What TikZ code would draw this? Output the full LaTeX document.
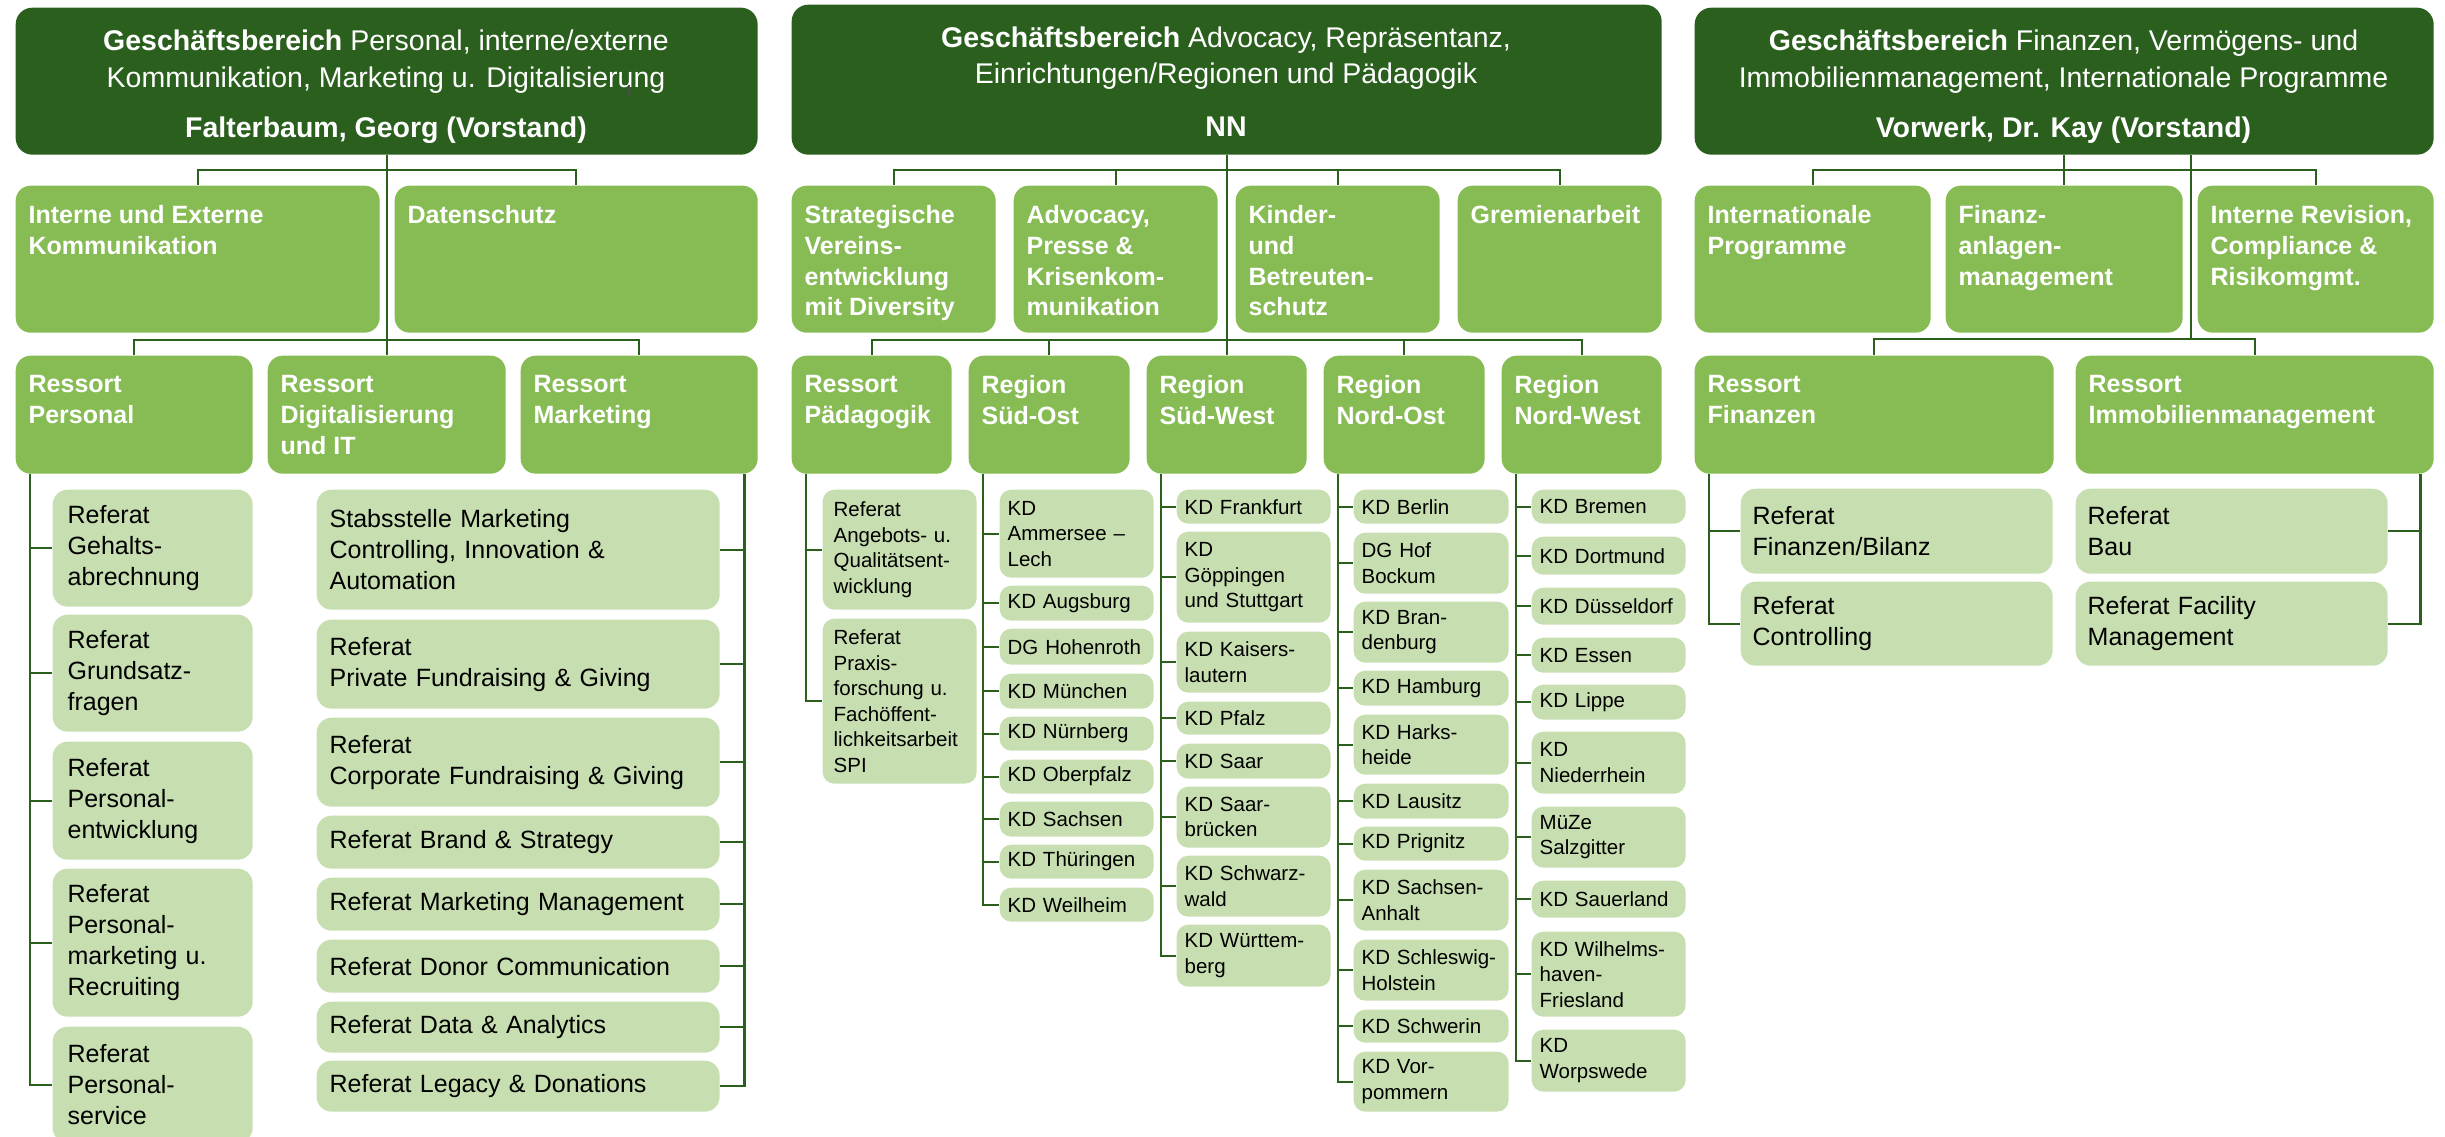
\documentclass[tikz,border=0pt]{standalone}
\usepackage{fontspec}
\setmainfont{Liberation Sans}
\usetikzlibrary{calc}
\definecolor{hdr}{HTML}{2A5F1D}
\definecolor{mid}{HTML}{87BC55}
\definecolor{lite}{HTML}{C7DFB0}
\definecolor{ln}{HTML}{2B601C}
\tikzset{
  x=0.3pt, y=-0.3pt,
  hdrbox/.style={fill=hdr, rounded corners=5pt},
  midbox/.style={fill=mid, rounded corners=4.5pt},
  refbox/.style={fill=lite, rounded corners=4.5pt, text=black,
    font=\fontsize{7.5pt}{9.3pt}\selectfont},
  kdbox/.style={fill=lite, rounded corners=3.5pt, text=black,
    font=\fontsize{6.15pt}{7.65pt}\selectfont},
  hdrtxt/.style={text=white, font=\fontsize{8.55pt}{11pt}\selectfont,
    inner sep=0pt, anchor=base},
  midtxt/.style={text=white, font=\bfseries\fontsize{7.5pt}{9.2pt}\selectfont,
    inner sep=0pt, anchor=north west, align=left},
  conn/.style={draw=ln, line width=0.7pt},
}
% plain box: name, style, x1, y1, x2, y2
\newcommand\pbx[6]{%
  \pgfmathsetmacro\mybw{(#5-#3)*0.3}%
  \pgfmathsetmacro\mybh{(#6-#4)*0.3}%
  \node[#2, anchor=north west, inner sep=0pt, minimum width=\mybw pt,
        minimum height=\mybh pt] (#1) at (#3,#4) {};}
% text box: name, style, x1, y1, x2, y2, pad, text
\newcommand\tbx[8]{%
  \pgfmathsetmacro\mybw{(#5-#3)*0.3}%
  \pgfmathsetmacro\mybh{(#6-#4)*0.3}%
  \pgfmathsetmacro\mytw{(#5-#3-2*#7)*0.3}%
  \pgfmathsetmacro\mypad{#7*0.3}%
  \node[#2, anchor=north west, inner xsep=\mypad pt, inner ysep=0pt,
        minimum width=\mybw pt, minimum height=\mybh pt, text width=\mytw pt,
        align=left, execute at begin node={\hyphenpenalty=10000\exhyphenpenalty=10000}]
        (#1) at (#3,#4) {#8};}
\begin{document}
\begin{tikzpicture}
\useasboundingbox (0,0) rectangle (2445,1137);

% ================= Headers =================
\pbx{h1}{hdrbox}{15}{7}{757}{154}
\pbx{h2}{hdrbox}{791}{4}{1661}{154}
\pbx{h3}{hdrbox}{1694}{7}{2433}{154}

\node[hdrtxt] (h1a) at (386,50) {\textbf{Geschäftsbereich} Personal, interne/externe};
\node[hdrtxt] (h1b) at (386,87) {Kommunikation, Marketing u. Digitalisierung};
\node[hdrtxt] (h1c) at (386,137) {\textbf{Falterbaum, Georg (Vorstand)}};
\draw[black!70, line width=0.4pt] (629,85) -- (629,97);

\node[hdrtxt] (h2a) at (1226,47) {\textbf{Geschäftsbereich} Advocacy, Repräsentanz,};
\node[hdrtxt] (h2b) at (1226,83) {Einrichtungen/Regionen und Pädagogik};
\node[hdrtxt] (h2c) at (1226,136) {\textbf{NN}};

\node[hdrtxt] (h3a) at (2063.5,50) {\textbf{Geschäftsbereich} Finanzen, Vermögens- und};
\node[hdrtxt] (h3b) at (2063.5,87) {Immobilienmanagement, Internationale Programme};
\node[hdrtxt] (h3c) at (2063.5,137) {\textbf{Vorwerk, Dr. Kay (Vorstand)}};

% ================= Row 2 =================
\pbx{g1a}{midbox}{15}{185}{379}{332}
\pbx{g1b}{midbox}{394}{185}{757}{332}
\pbx{s1}{midbox}{791}{185}{995}{332}
\pbx{s2}{midbox}{1013}{185}{1217}{332}
\pbx{s3}{midbox}{1235}{185}{1439}{332}
\pbx{s4}{midbox}{1457}{185}{1661}{332}
\pbx{f1}{midbox}{1694}{185}{1930}{332}
\pbx{f2}{midbox}{1945}{185}{2182}{332}
\pbx{f3}{midbox}{2197}{185}{2433}{332}

\node[midtxt] (g1aT) at ($(g1a.north west)+(13,20)$) {Interne und Externe\\Kommunikation};
\node[midtxt] (g1bT) at ($(g1b.north west)+(13,20)$) {Datenschutz};
\node[midtxt] (s1T) at ($(s1.north west)+(13,20)$) {Strategische\\Vereins-\\entwicklung\\mit Diversity};
\node[midtxt] (s2T) at ($(s2.north west)+(13,20)$) {Advocacy,\\Presse \&\\Krisenkom-\\munikation};
\node[midtxt] (s3T) at ($(s3.north west)+(13,20)$) {Kinder-\\und\\Betreuten-\\schutz};
\node[midtxt] (s4T) at ($(s4.north west)+(13,20)$) {Gremienarbeit};
\node[midtxt] (f1T) at ($(f1.north west)+(13,20)$) {Internationale\\Programme};
\node[midtxt] (f2T) at ($(f2.north west)+(13,20)$) {Finanz-\\anlagen-\\management};
\node[midtxt] (f3T) at ($(f3.north west)+(13,20)$) {Interne Revision,\\Compliance \&\\Risikomgmt.};

% ================= Row 3 =================
\pbx{g1p}{midbox}{15}{355}{252}{473}
\pbx{g1d}{midbox}{267}{355}{505}{473}
\pbx{g1m}{midbox}{520}{355}{757}{473}
\pbx{q1}{midbox}{791}{355}{951}{473}
\pbx{q2}{midbox}{968}{355}{1129}{473}
\pbx{q3}{midbox}{1146}{355}{1306}{473}
\pbx{q4}{midbox}{1323}{355}{1484}{473}
\pbx{q5}{midbox}{1501}{355}{1661}{473}
\pbx{k1}{midbox}{1694}{355}{2053}{473}
\pbx{k2}{midbox}{2075}{355}{2433}{473}

\node[midtxt] (g1pT) at ($(g1p.north west)+(13,20)$) {Ressort\\Personal};
\node[midtxt] (g1dT) at ($(g1d.north west)+(13,20)$) {Ressort\\Digitalisierung\\und IT};
\node[midtxt] (g1mT) at ($(g1m.north west)+(13,20)$) {Ressort\\Marketing};
\node[midtxt] (q1T) at ($(q1.north west)+(13,20)$) {Ressort\\Pädagogik};
\node[midtxt] (q2T) at ($(q2.north west)+(13,20)$) {Region\\Süd-Ost};
\node[midtxt] (q3T) at ($(q3.north west)+(13,20)$) {Region\\Süd-West};
\node[midtxt] (q4T) at ($(q4.north west)+(13,20)$) {Region\\Nord-Ost};
\node[midtxt] (q5T) at ($(q5.north west)+(13,20)$) {Region\\Nord-West};
\node[midtxt] (k1T) at ($(k1.north west)+(13,20)$) {Ressort\\Finanzen};
\node[midtxt] (k2T) at ($(k2.north west)+(13,20)$) {Ressort\\Immobilienmanagement};

% ================= Referate Personal =================
\tbx{pe1}{refbox}{52}{489}{252}{606}{15}{Referat\\Gehalts-\\abrechnung}
\tbx{pe2}{refbox}{52}{614}{252}{731}{15}{Referat\\Grundsatz-\\fragen}
\tbx{pe3}{refbox}{52}{741}{252}{859}{15}{Referat\\Personal-\\entwicklung}
\tbx{pe4}{refbox}{52}{868}{252}{1016}{15}{Referat\\Personal-\\marketing u.\\Recruiting}
\tbx{pe5}{refbox}{52}{1026}{252}{1142}{15}{Referat\\Personal-\\service}

% ================= Referate Marketing =================
\tbx{mk1}{refbox}{316}{489}{719}{609}{13}{Stabsstelle Marketing\\Controlling, Innovation \&\\Automation}
\tbx{mk2}{refbox}{316}{619}{719}{708}{13}{Referat\\Private Fundraising \& Giving}
\tbx{mk3}{refbox}{316}{717}{719}{806}{13}{Referat\\Corporate Fundraising \& Giving}
\tbx{mk4}{refbox}{316}{815}{719}{868}{13}{Referat Brand \& Strategy}
\tbx{mk5}{refbox}{316}{877}{719}{930}{13}{Referat Marketing Management}
\tbx{mk6}{refbox}{316}{939}{719}{992}{13}{Referat Donor Communication}
\tbx{mk7}{refbox}{316}{1001}{719}{1052}{13}{Referat Data \& Analytics}
\tbx{mk8}{refbox}{316}{1060}{719}{1111}{13}{Referat Legacy \& Donations}

% ================= Pädagogik =================
\tbx{pd1}{kdbox}{822}{489}{976}{609}{11}{Referat\\Angebots- u.\\Qualitätsent-\\wicklung}
\tbx{pd2}{kdbox}{822}{618}{976}{783}{11}{Referat\\Praxis-\\forschung u.\\Fachöffent-\\lichkeitsarbeit\\SPI}

% ================= Süd-Ost =================
\tbx{so1}{kdbox}{999}{489}{1153}{577}{8}{KD\\Ammersee –\\Lech}
\tbx{so2}{kdbox}{999}{585}{1153}{620}{8}{KD Augsburg}
\tbx{so3}{kdbox}{999}{628}{1153}{664}{8}{DG Hohenroth}
\tbx{so4}{kdbox}{999}{673}{1153}{708}{8}{KD München}
\tbx{so5}{kdbox}{999}{716}{1153}{750}{8}{KD Nürnberg}
\tbx{so6}{kdbox}{999}{759}{1153}{793}{8}{KD Oberpfalz}
\tbx{so7}{kdbox}{999}{801}{1153}{836}{8}{KD Sachsen}
\tbx{so8}{kdbox}{999}{844}{1153}{878}{8}{KD Thüringen}
\tbx{so9}{kdbox}{999}{887}{1153}{921}{8}{KD Weilheim}

% ================= Süd-West =================
\tbx{sw1}{kdbox}{1176}{489}{1330}{523}{8}{KD Frankfurt}
\tbx{sw2}{kdbox}{1176}{531}{1330}{622}{8}{KD\\Göppingen\\und Stuttgart}
\tbx{sw3}{kdbox}{1176}{631}{1330}{692}{8}{KD Kaisers-\\lautern}
\tbx{sw4}{kdbox}{1176}{701}{1330}{734}{8}{KD Pfalz}
\tbx{sw5}{kdbox}{1176}{743}{1330}{778}{8}{KD Saar}
\tbx{sw6}{kdbox}{1176}{786}{1330}{847}{8}{KD Saar-\\brücken}
\tbx{sw7}{kdbox}{1176}{855}{1330}{916}{8}{KD Schwarz-\\wald}
\tbx{sw8}{kdbox}{1176}{924}{1330}{986}{8}{KD Württem-\\berg}

% ================= Nord-Ost =================
\tbx{no1}{kdbox}{1353}{489}{1508}{523}{8}{KD Berlin}
\tbx{no2}{kdbox}{1353}{532}{1508}{593}{8}{DG Hof\\Bockum}
\tbx{no3}{kdbox}{1353}{601}{1508}{662}{8}{KD Bran-\\denburg}
\tbx{no4}{kdbox}{1353}{670}{1508}{705}{8}{KD Hamburg}
\tbx{no5}{kdbox}{1353}{714}{1508}{774}{8}{KD Harks-\\heide}
\tbx{no6}{kdbox}{1353}{783}{1508}{818}{8}{KD Lausitz}
\tbx{no7}{kdbox}{1353}{826}{1508}{860}{8}{KD Prignitz}
\tbx{no8}{kdbox}{1353}{869}{1508}{930}{8}{KD Sachsen-\\Anhalt}
\tbx{no9}{kdbox}{1353}{939}{1508}{1000}{8}{KD Schleswig-\\Holstein}
\tbx{no10}{kdbox}{1353}{1009}{1508}{1042}{8}{KD Schwerin}
\tbx{no11}{kdbox}{1353}{1051}{1508}{1111}{8}{KD Vor-\\pommern}

% ================= Nord-West =================
\tbx{nw1}{kdbox}{1531}{489}{1685}{523}{8}{KD Bremen}
\tbx{nw2}{kdbox}{1531}{536}{1685}{574}{8}{KD Dortmund}
\tbx{nw3}{kdbox}{1531}{587}{1685}{624}{8}{KD Düsseldorf}
\tbx{nw4}{kdbox}{1531}{637}{1685}{672}{8}{KD Essen}
\tbx{nw5}{kdbox}{1531}{684}{1685}{719}{8}{KD Lippe}
\tbx{nw6}{kdbox}{1531}{731}{1685}{793}{8}{KD\\Niederrhein}
\tbx{nw7}{kdbox}{1531}{806}{1685}{867}{8}{MüZe\\Salzgitter}
\tbx{nw8}{kdbox}{1531}{880}{1685}{917}{8}{KD Sauerland}
\tbx{nw9}{kdbox}{1531}{931}{1685}{1016}{8}{KD Wilhelms-\\haven-\\Friesland}
\tbx{nw10}{kdbox}{1531}{1029}{1685}{1091}{8}{KD\\Worpswede}

% ================= Finanzen / Immobilien =================
\tbx{fi1}{refbox}{1740}{488}{2052}{573}{12}{Referat\\Finanzen/Bilanz}
\tbx{fi2}{refbox}{1740}{581}{2052}{665}{12}{Referat\\Controlling}
\tbx{im1}{refbox}{2075}{488}{2387}{573}{12}{Referat\\Bau}
\tbx{im2}{refbox}{2075}{581}{2387}{665}{12}{Referat Facility\\Management}

% ================= Connectors: headers =================
\draw[conn] (h1.south) -- (g1d.north);
\draw[conn] (g1a.north) -- ++(0,-15) -| (g1b.north);
\draw[conn] (g1p.north) -- ++(0,-15) -| (g1m.north);

\draw[conn] (h2.south) -- (q3.north);
\draw[conn] (s1.north) -- ++(0,-15) -| (s4.north);
\draw[conn] (s2.north) -- ++(0,-15);
\draw[conn] (s3.north) -- ++(0,-15);
\draw[conn] (q1.north) -- ++(0,-15) -| (q5.north);
\draw[conn] (q2.north) -- ++(0,-15);
\draw[conn] (q4.north) -- ++(0,-15);

\draw[conn] (h3.south) -- (f2.north);
\draw[conn] (f1.north) -- ++(0,-15) -| (f3.north);
\coordinate (k1bar) at ($(k1.north)+(0,-16)$);
\coordinate (h3t) at ($(h3.south)+(126.5,0)$);
\draw[conn] (k1.north) -- (k1bar) -| (k2.north);
\draw[conn] (h3t) -- (h3t |- k1bar);

% ================= Connectors: children =================
\coordinate (vP) at ($(g1p.south west)+(15,0)$);
\draw[conn] (vP) |- (pe5.west);
\foreach \n in {pe1,pe2,pe3,pe4} \draw[conn] (\n.west) -- (\n.west -| vP);

\coordinate (vM) at ($(g1m.south east)+(-14,0)$);
\draw[conn] (vM) |- (mk8.east);
\foreach \n in {mk1,mk2,mk3,mk4,mk5,mk6,mk7} \draw[conn] (\n.east) -- (\n.east -| vM);

\coordinate (vQ1) at ($(q1.south west)+(15,0)$);
\draw[conn] (vQ1) |- (pd2.west);
\draw[conn] (pd1.west) -- (pd1.west -| vQ1);

\coordinate (vQ2) at ($(q2.south west)+(15,0)$);
\draw[conn] (vQ2) |- (so9.west);
\foreach \n in {so1,so2,so3,so4,so5,so6,so7,so8} \draw[conn] (\n.west) -- (\n.west -| vQ2);

\coordinate (vQ3) at ($(q3.south west)+(15,0)$);
\draw[conn] (vQ3) |- (sw8.west);
\foreach \n in {sw1,sw2,sw3,sw4,sw5,sw6,sw7} \draw[conn] (\n.west) -- (\n.west -| vQ3);

\coordinate (vQ4) at ($(q4.south west)+(15,0)$);
\draw[conn] (vQ4) |- (no11.west);
\foreach \n in {no1,no2,no3,no4,no5,no6,no7,no8,no9,no10} \draw[conn] (\n.west) -- (\n.west -| vQ4);

\coordinate (vQ5) at ($(q5.south west)+(15,0)$);
\draw[conn] (vQ5) |- (nw10.west);
\foreach \n in {nw1,nw2,nw3,nw4,nw5,nw6,nw7,nw8,nw9} \draw[conn] (\n.west) -- (\n.west -| vQ5);

\coordinate (vK1) at ($(k1.south west)+(15,0)$);
\draw[conn] (vK1) |- (fi2.west);
\draw[conn] (fi1.west) -- (fi1.west -| vK1);

\coordinate (vK2) at ($(k2.south east)+(-14,0)$);
\draw[conn] (vK2) |- (im2.east);
\draw[conn] (im1.east) -- (im1.east -| vK2);
\end{tikzpicture}
\end{document}
